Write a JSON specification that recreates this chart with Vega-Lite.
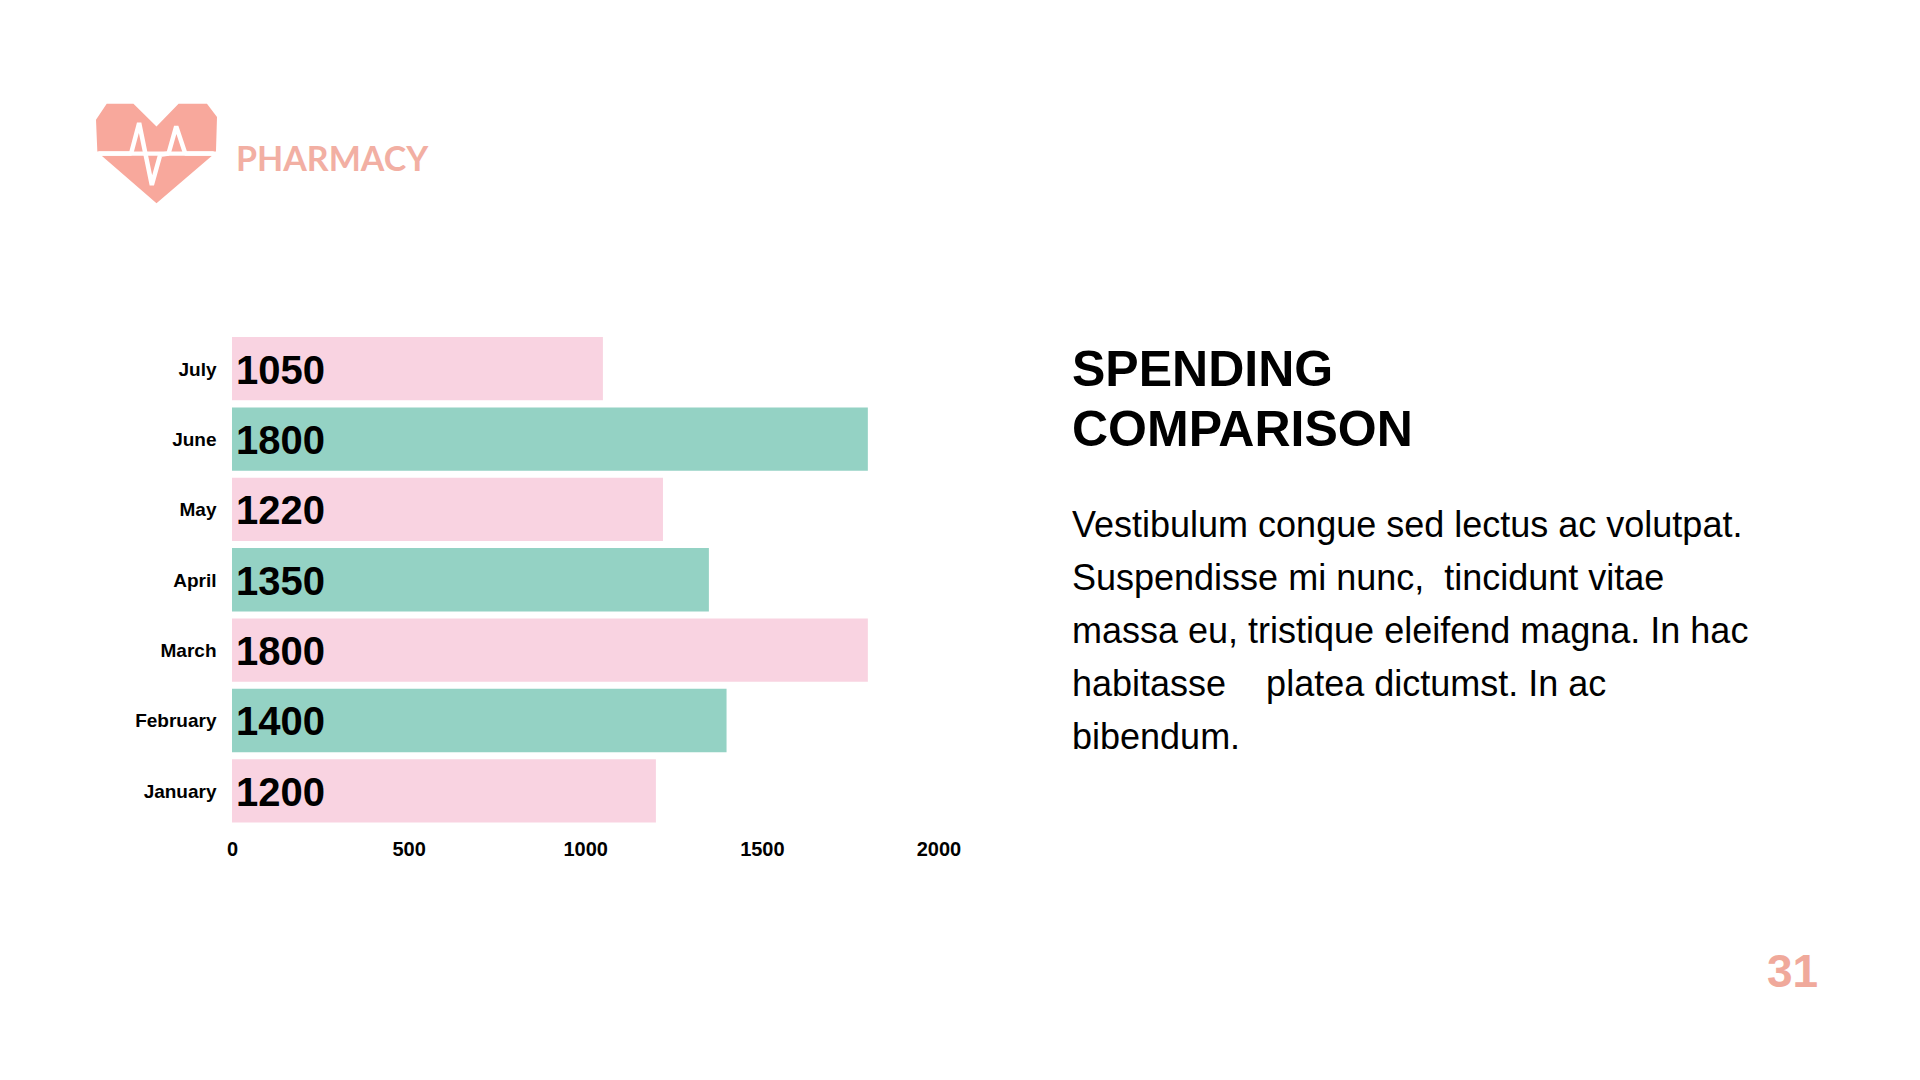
{
"$schema":"https://vega.github.io/schema/vega-lite/v6.json",
"width":706.5,"height":492.5,
"autosize":{"type":"none"},
"padding":{"left":232,"top":333.5,"right":981.5,"bottom":254},
"background":"white",
"config":{"view":{"stroke":null},"font":"Liberation Sans"},
"datasets":{
"spend":[
{"month":"July","value":1050,"group":"A"},
{"month":"June","value":1800,"group":"B"},
{"month":"May","value":1220,"group":"A"},
{"month":"April","value":1350,"group":"B"},
{"month":"March","value":1800,"group":"A"},
{"month":"February","value":1400,"group":"B"},
{"month":"January","value":1200,"group":"A"}
]},
"layer":[
{"data":{"name":"spend"},
"encoding":{"y":{"field":"month","type":"nominal","sort":["July","June","May","April","March","February","January"],"scale":{"paddingInner":0.1,"paddingOuter":0.05},"title":null,"axis":{"domain":false,"ticks":false,"labelPadding":16,"labelOffset":1,"labelFont":"Liberation Sans","labelFontSize":19,"labelFontWeight":"bold","labelColor":"#000000","labelLimit":200}}},
"layer":[
{"mark":{"type":"bar"},
"encoding":{"x":{"field":"value","type":"quantitative","scale":{"domain":[0,2000],"nice":false},"title":null,"axis":{"values":[0,500,1000,1500,2000],"format":"d","grid":false,"domain":false,"ticks":false,"labelPadding":13,"labelFont":"Liberation Sans","labelFontSize":20,"labelFontWeight":"bold","labelColor":"#000000","labelFlush":false}},
"color":{"field":"group","type":"nominal","scale":{"domain":["A","B"],"range":["#F9D3E1","#94D2C4"]},"legend":null}}},
{"mark":{"type":"text","align":"left","baseline":"middle","dx":4,"dy":3,"font":"Liberation Sans","fontSize":40,"fontWeight":"bold","color":"#000000"},
"encoding":{"x":{"datum":0},"text":{"field":"value","type":"quantitative","format":"d"}}}
]},
{"data":{"values":[{"icon":"heart"}]},
"mark":{"type":"point","filled":true,"opacity":1,"color":"#F8A89C","size":14641,"shape":"M-.823,-.823L-.381,-.823L0,-.448L.365,-.823L.834,-.823L1,-.602L.983,-.033L-.978,-.033L-1,-.558Z M-.906,.039L.917,.039L0,.823Z"},
"encoding":{"x":{"datum":156.5,"scale":{"domain":[0,1920],"range":[-232,1688]},"axis":null},"y":{"datum":153.5,"scale":{"domain":[0,1080],"range":[-333.5,746.5]},"axis":null}}},
{"data":{"values":[{"icon":"pulse"}]},
"mark":{"type":"point","filled":false,"opacity":1,"color":"#FFFFFF","strokeWidth":4.5,"strokeJoin":"bevel","size":14641,"shape":"M-.96,0L-.42,0L-.287,-.503L-.077,.52L.061,.022L.199,0L.326,-.448L.475,0L.945,0"},
"encoding":{"x":{"datum":156.5,"scale":{"domain":[0,1920],"range":[-232,1688]},"axis":null},"y":{"datum":153.5,"scale":{"domain":[0,1080],"range":[-333.5,746.5]},"axis":null}}},
{"data":{"values":[{"label":"PHARMACY"}]},
"mark":{"type":"text","align":"left","baseline":"alphabetic","font":"Lato","fontSize":34,"fontWeight":"bold","color":"#F2AFA3"},
"encoding":{"text":{"field":"label"},"x":{"datum":236,"scale":{"domain":[0,1920],"range":[-232,1688]},"axis":null},"y":{"datum":171,"scale":{"domain":[0,1080],"range":[-333.5,746.5]},"axis":null}}},
{"data":{"values":[{"label":"SPENDING\nCOMPARISON"}]},
"mark":{"type":"text","align":"left","baseline":"alphabetic","lineBreak":"\n","lineHeight":60,"font":"Liberation Sans","fontSize":50,"fontWeight":"bold","color":"#000000"},
"encoding":{"text":{"field":"label"},"x":{"datum":1072,"scale":{"domain":[0,1920],"range":[-232,1688]},"axis":null},"y":{"datum":386,"scale":{"domain":[0,1080],"range":[-333.5,746.5]},"axis":null}}},
{"data":{"values":[{"label":"Vestibulum congue sed lectus ac volutpat.\nSuspendisse mi nunc,\u00a0\u00a0tincidunt vitae\nmassa eu, tristique eleifend magna. In hac\nhabitasse\u00a0\u00a0\u00a0\u00a0platea dictumst. In ac\nbibendum."}]},
"mark":{"type":"text","align":"left","baseline":"alphabetic","lineBreak":"\n","lineHeight":53,"font":"Liberation Sans","fontSize":36,"color":"#000000"},
"encoding":{"text":{"field":"label"},"x":{"datum":1072,"scale":{"domain":[0,1920],"range":[-232,1688]},"axis":null},"y":{"datum":537,"scale":{"domain":[0,1080],"range":[-333.5,746.5]},"axis":null}}},
{"data":{"values":[{"label":"31"}]},
"mark":{"type":"text","align":"left","baseline":"alphabetic","font":"Liberation Sans","fontSize":46,"fontWeight":"bold","color":"#F0A99B"},
"encoding":{"text":{"field":"label"},"x":{"datum":1767,"scale":{"domain":[0,1920],"range":[-232,1688]},"axis":null},"y":{"datum":987,"scale":{"domain":[0,1080],"range":[-333.5,746.5]},"axis":null}}}
],
"resolve":{"scale":{"x":"independent","y":"independent"}}
}
